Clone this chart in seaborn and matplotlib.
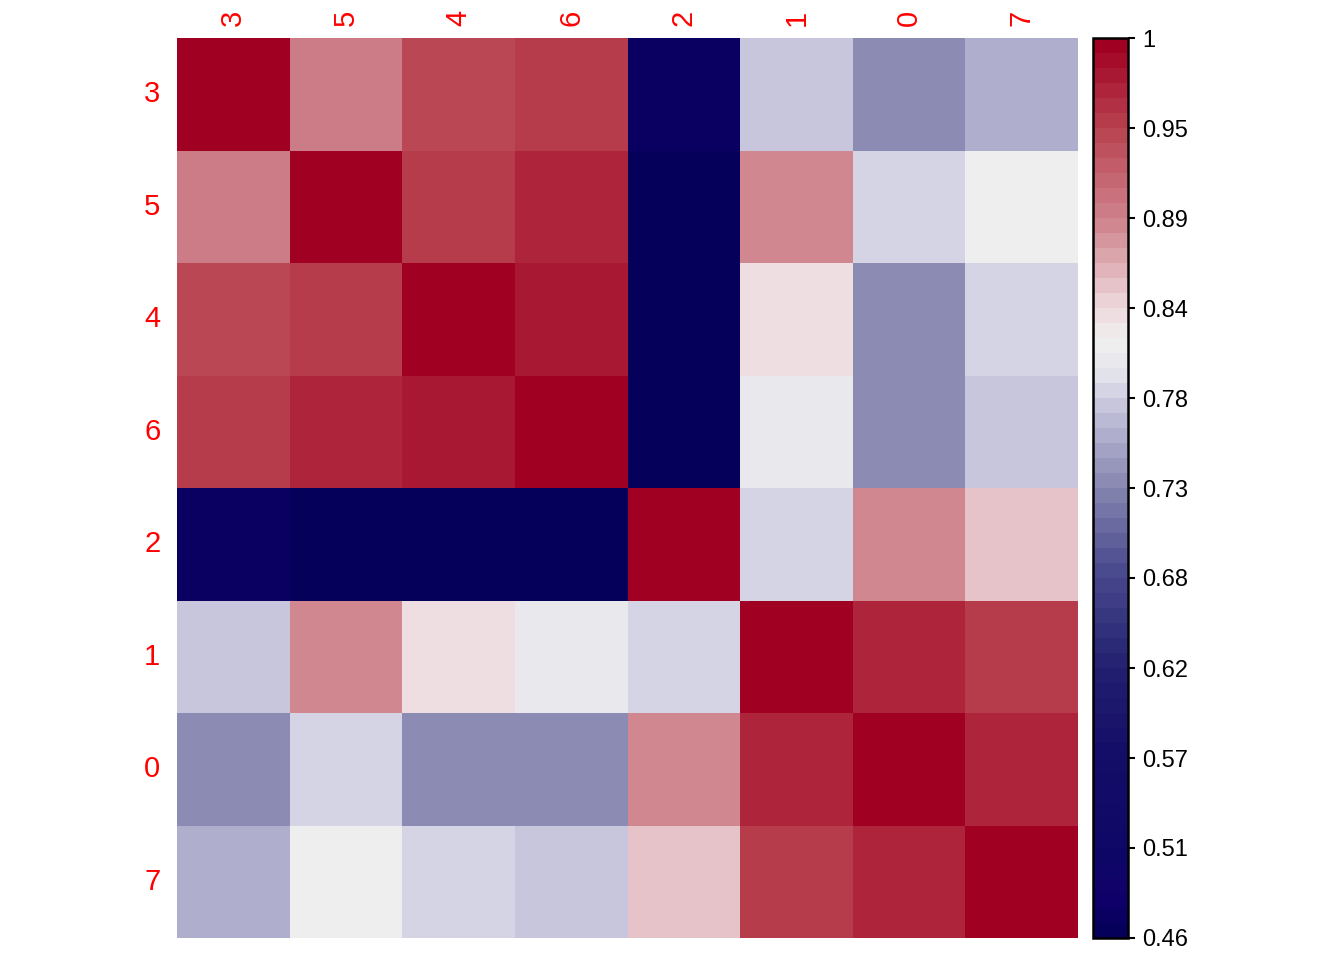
import numpy as np
import pandas as pd
import matplotlib
matplotlib.use('Agg')
import matplotlib.pyplot as plt
import seaborn as sns
from matplotlib.colors import LinearSegmentedColormap

sns.set_style('white')
plt.rcParams['font.family'] = ['Liberation Sans', 'DejaVu Sans']

# --- Data ---
labels = ['3', '5', '4', '6', '2', '1', '0', '7']
row_3 = [1.000, 0.895, 0.945, 0.955, 0.476, 0.780, 0.735, 0.765]
row_5 = [0.895, 1.000, 0.955, 0.965, 0.468, 0.885, 0.787, 0.820]
row_4 = [0.945, 0.955, 1.000, 0.975, 0.460, 0.835, 0.735, 0.787]
row_6 = [0.955, 0.965, 0.975, 1.000, 0.460, 0.805, 0.735, 0.780]
row_2 = [0.476, 0.468, 0.460, 0.460, 1.000, 0.787, 0.885, 0.850]
row_1 = [0.780, 0.885, 0.835, 0.805, 0.787, 1.000, 0.965, 0.955]
row_0 = [0.735, 0.787, 0.735, 0.735, 0.885, 0.965, 1.000, 0.965]
row_7 = [0.765, 0.820, 0.787, 0.780, 0.850, 0.955, 0.965, 1.000]

cbar_ticks = [0.46, 0.514, 0.568, 0.622, 0.676, 0.73, 0.784, 0.838, 0.892, 0.946, 1.0]
cbar_labels = ['0.46', '0.51', '0.57', '0.62', '0.68', '0.73', '0.78', '0.84', '0.89', '0.95', '1']

df = pd.DataFrame([row_3, row_5, row_4, row_6, row_2, row_1, row_0, row_7],
                  index=labels, columns=labels)

# --- Colour map ---
vmin, vmax = 0.46, 1.0
anchors = [
    (0.46, '#05005A'), (0.48, '#10006A'), (0.51, '#0E0766'), (0.57, '#150E68'),
    (0.62, '#222070'), (0.68, '#4A4A8E'), (0.73, '#8585B0'), (0.78, '#C6C5DC'),
    (0.80, '#E4E4EC'), (0.82, '#F1F0EE'), (0.84, '#EDD9DD'), (0.89, '#D08790'),
    (0.95, '#B8414F'), (1.00, '#A00022'),
]
cmap = LinearSegmentedColormap.from_list(
    'corr', [((v - vmin) / (vmax - vmin), c) for v, c in anchors], N=60)

# --- Plot ---
fig = plt.figure(figsize=(13.44, 9.6), dpi=100)
ax = fig.add_axes([177 / 1344, 22 / 960, 901 / 1344, 900 / 960])
cax = fig.add_axes([1093 / 1344, 22 / 960, 35 / 1344, 900 / 960])

sns.heatmap(df, ax=ax, cbar_ax=cax, cmap=cmap, vmin=vmin, vmax=vmax,
            square=False, linewidths=0)

ax.xaxis.tick_top()
ax.set_xticklabels(labels, rotation=90, color='red', fontsize=21)
ax.set_yticklabels(labels, rotation=0, color='red', fontsize=21)
ax.tick_params(axis='x', length=0, pad=9)
ax.tick_params(axis='y', length=0, pad=12)
ax.set_xlabel('')
ax.set_ylabel('')

cbar = ax.collections[0].colorbar
cbar.set_ticks(cbar_ticks)
cbar.set_ticklabels(cbar_labels)
cbar.ax.tick_params(labelsize=17, length=5, width=1.5, color='black',
                    labelcolor='black', pad=5)
cbar.outline.set_visible(True)
cbar.outline.set_edgecolor('black')
cbar.outline.set_linewidth(1.8)

plt.savefig('out.png', dpi=100)
